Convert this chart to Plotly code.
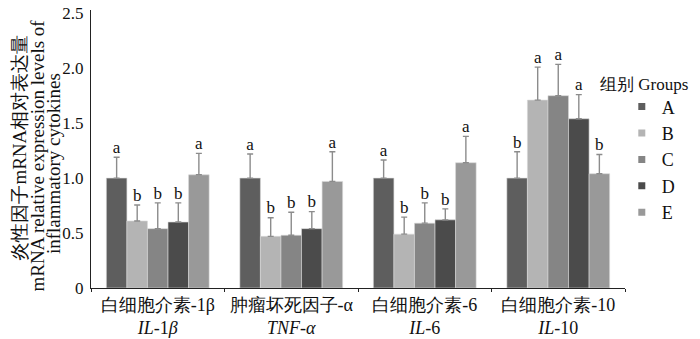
import plotly.graph_objects as go

categories = ["IL-1β", "TNF-α", "IL-6", "IL-10"]
tick_labels = [
    "白细胞介素-1β<br><i>IL</i>-1<i>β</i>",
    "肿瘤坏死因子-α<br><i>TNF-α</i>",
    "白细胞介素-6<br><i>IL</i>-6",
    "白细胞介素-10<br><i>IL</i>-10",
]
groups = ["A", "B", "C", "D", "E"]
colors = ["#5e5e5e", "#b4b4b4", "#858585", "#4b4b4b", "#999999"]

values_A = [1.00, 1.00, 1.00, 1.00]
values_B = [0.61, 0.47, 0.49, 1.71]
values_C = [0.54, 0.48, 0.59, 1.75]
values_D = [0.60, 0.54, 0.62, 1.54]
values_E = [1.03, 0.97, 1.14, 1.04]

err_A = [0.19, 0.22, 0.165, 0.24]
err_B = [0.145, 0.17, 0.155, 0.30]
err_C = [0.235, 0.21, 0.185, 0.285]
err_D = [0.175, 0.155, 0.10, 0.22]
err_E = [0.195, 0.27, 0.24, 0.175]

letters_A = ["a", "a", "a", "b"]
letters_B = ["b", "b", "b", "a"]
letters_C = ["b", "b", "b", "a"]
letters_D = ["b", "b", "b", "a"]
letters_E = ["a", "a", "a", "b"]

y_tick_vals = [0, 0.5, 1.0, 1.5, 2.0, 2.5]
y_tick_text = ["0", "0.5", "1.0", "1.5", "2.0", "2.5"]

values = [values_A, values_B, values_C, values_D, values_E]
errors = [err_A, err_B, err_C, err_D, err_E]
letters = [letters_A, letters_B, letters_C, letters_D, letters_E]

FONT = "Liberation Serif"
GAP = 0.23

fig = go.Figure()
for g, c, v, e in zip(groups, colors, values, errors):
    fig.add_trace(go.Bar(
        x=categories, y=v, name=g, marker_color=c,
        marker_line=dict(color="#d8d8d8", width=0.6),
        offsetgroup=g, showlegend=False,
        error_y=dict(type="data", array=e, arrayminus=[0] * len(e), symmetric=False,
                     color="#8c8c8c", thickness=1.4, width=3),
    ))
for g, v, e, l in zip(groups, values, errors, letters):
    fig.add_trace(go.Scatter(
        x=categories, y=[a + b for a, b in zip(v, e)], mode="text", text=l,
        textposition="top center", offsetgroup=g, showlegend=False,
        textfont=dict(family=FONT, size=17, color="#111"), cliponaxis=False,
        hoverinfo="skip",
    ))
for g, c in zip(groups, colors):
    fig.add_trace(go.Scatter(
        x=[None], y=[None], mode="markers", name=g,
        marker=dict(symbol="square", size=7, color=c),
    ))

fig.update_layout(
    width=700, height=339,
    margin=dict(l=91, r=75, t=10, b=51),
    plot_bgcolor="white", paper_bgcolor="white",
    barmode="group", bargap=GAP, bargroupgap=0,
    scattermode="group", scattergap=GAP,
    font=dict(family=FONT, size=17, color="#111"),
    showlegend=True,
    legend=dict(x=0.994, y=0.718, xanchor="left", yanchor="top",
                font=dict(family=FONT, size=18), tracegroupgap=0,
                itemwidth=30, bgcolor="rgba(0,0,0,0)"),
    xaxis=dict(type="category", tickvals=categories, ticktext=tick_labels,
               showline=True, linecolor="#222", linewidth=1.2,
               ticks="outside", tickson="boundaries", ticklen=3, tickcolor="#222",
               ticklabelstandoff=0, automargin=False,
               tickfont=dict(family=FONT, size=18), range=[-0.5, 3.5]),
    yaxis=dict(range=[0, 2.53], tickvals=y_tick_vals, ticktext=y_tick_text,
               showline=True, linecolor="#222", linewidth=1.2, showgrid=False,
               zeroline=False, ticks="", ticklabelstandoff=3, automargin=False,
               tickfont=dict(family=FONT, size=17)),
)

title_lines = [
    ("炎性因子mRNA相对表达量", -0.133, 0.505, 19),
    ("mRNA relative expression levels of", -0.100, 0.475, 19),
    ("inflammatory cytokines", -0.070, 0.448, 19),
]
for txt, xx, yy, fs in title_lines:
    fig.add_annotation(text=txt, xref="paper", yref="paper", x=xx, y=yy,
                       xanchor="center", yanchor="middle", textangle=-90,
                       showarrow=False, font=dict(family=FONT, size=fs))

fig.add_annotation(text="组别 Groups", xref="paper", yref="paper", x=0.949, y=0.731,
                   xanchor="left", yanchor="middle", showarrow=False,
                   font=dict(family=FONT, size=17))

fig.write_html("out.html")
